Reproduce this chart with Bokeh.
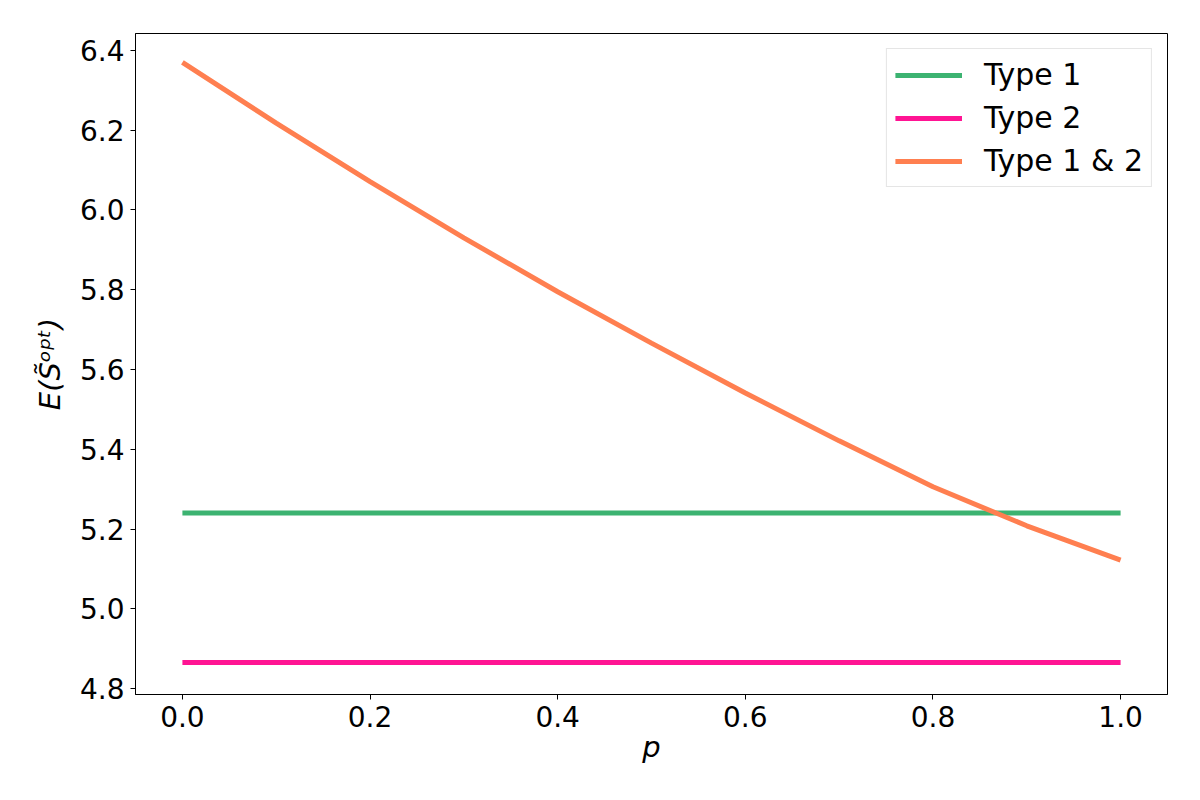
from bokeh.plotting import figure
from bokeh.models import FixedTicker, NumeralTickFormatter, Range1d, Legend, LegendItem
from bokeh.embed import file_html
from bokeh.resources import INLINE

# Data
p_vals = [0.0, 0.1, 0.2, 0.3, 0.4, 0.5, 0.6, 0.7, 0.8, 0.9, 1.0]
type1 = [5.240] * len(p_vals)
type2 = [4.865] * len(p_vals)
type12 = [6.370, 6.218, 6.071, 5.930, 5.795, 5.666, 5.541, 5.421, 5.306, 5.208, 5.122]

x_ticks = [0.0, 0.2, 0.4, 0.6, 0.8, 1.0]
y_ticks = [4.8, 5.0, 5.2, 5.4, 5.6, 5.8, 6.0, 6.2, 6.4]

FONT = "DejaVu Sans"

p = figure(frame_width=1032, frame_height=661, output_backend="svg", toolbar_location=None,
           x_range=Range1d(-0.05, 1.05), y_range=Range1d(4.785, 6.4425),
           min_border_left=135, min_border_top=33, min_border_right=25, min_border_bottom=96)

p.xgrid.visible = False
p.ygrid.visible = False
p.outline_line_color = "black"
p.outline_line_width = 1
p.outline_line_alpha = 1.0
p.background_fill_color = "white"
p.border_fill_color = "white"

r1 = p.line(p_vals, type1, line_color="#3CB371", line_width=5)
r2 = p.line(p_vals, type2, line_color="#FF1493", line_width=5)
r3 = p.line(p_vals, type12, line_color="#FF7F50", line_width=5)

for ax in (p.xaxis[0], p.yaxis[0]):
    ax.axis_line_color = "black"
    ax.major_tick_line_color = "black"
    ax.major_tick_out = 5
    ax.major_tick_in = 0
    ax.minor_tick_line_color = None
    ax.major_label_text_font = FONT
    ax.major_label_text_font_size = "28px"
    ax.major_label_text_color = "black"
    ax.axis_label_text_font = FONT
    ax.axis_label_text_font_size = "29px"
    ax.axis_label_text_font_style = "italic"
    ax.axis_label_text_color = "black"
    ax.formatter = NumeralTickFormatter(format="0.0")

p.xaxis[0].ticker = FixedTicker(ticks=x_ticks)
p.yaxis[0].ticker = FixedTicker(ticks=y_ticks)
p.xaxis[0].axis_label = "p"
p.yaxis[0].axis_label = "E(S\u0303\u1d52\u1d56\u1d57)"
p.xaxis[0].major_label_standoff = 6
p.yaxis[0].major_label_standoff = 6
p.xaxis[0].axis_label_standoff = 0
p.yaxis[0].axis_label_standoff = 10

legend = Legend(items=[LegendItem(label="Type 1", renderers=[r1]),
                       LegendItem(label="Type 2", renderers=[r2]),
                       LegendItem(label="Type 1 & 2", renderers=[r3])],
                location="top_right", margin=15, padding=8, spacing=8,
                glyph_width=67, glyph_height=30, label_height=30, label_standoff=22,
                label_text_font=FONT, label_text_font_size="30px", label_text_color="black",
                border_line_color="#cccccc", border_line_width=1, background_fill_color="white",
                background_fill_alpha=0.8)
p.add_layout(legend, "center")

open("out.html", "w").write(file_html(p, INLINE))
